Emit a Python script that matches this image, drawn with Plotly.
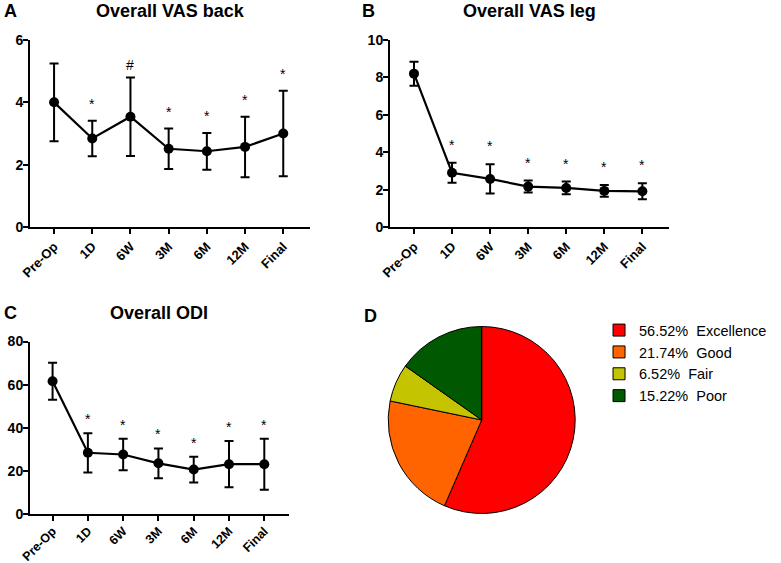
import plotly.graph_objects as go

# time points
cats = ["Pre-Op", "1D", "6W", "3M", "6M", "12M", "Final"]

# A - overall VAS back (mean, sd)
vas_back = [4.0, 2.84, 3.54, 2.51, 2.43, 2.57, 3.0]
vas_back_sd = [1.25, 0.57, 1.26, 0.65, 0.59, 0.97, 1.37]
vas_back_sig = ["", "*", "#", "*", "*", "*", "*"]

# B - overall VAS leg
vas_leg = [8.2, 2.9, 2.57, 2.16, 2.09, 1.93, 1.91]
vas_leg_sd = [0.64, 0.54, 0.78, 0.32, 0.34, 0.31, 0.43]
vas_leg_sig = ["", "*", "*", "*", "*", "*", "*"]

# C - overall ODI
odi = [61.6, 28.4, 27.6, 23.5, 20.6, 23.1, 23.1]
odi_sd = [8.6, 9.1, 7.3, 6.9, 6.0, 10.7, 11.8]
odi_sig = ["", "*", "*", "*", "*", "*", "*"]

# D - outcome
outcome = ["Excellence", "Good", "Fair", "Poor"]
outcome_pct = [56.52, 21.74, 6.52, 15.22]
outcome_colors = ["#FF0000", "#FF6400", "#C4C400", "#005800"]

FONT = "Liberation Sans"
W, H = 781, 563


def px(x):
    return x / W


def py(y):
    return 1 - y / H


fig = go.Figure()


def add_panel(n, vals, sd, sig, star_shift):
    xa = "x" if n == 1 else f"x{n}"
    ya = "y" if n == 1 else f"y{n}"
    fig.add_trace(go.Scatter(
        x=cats, y=vals,
        mode="lines+markers",
        line=dict(color="black", width=2.2),
        marker=dict(color="black", size=10),
        error_y=dict(type="data", array=sd, color="black", thickness=2, width=4.5),
        xaxis=xa, yaxis=ya, showlegend=False,
    ))
    for c, v, s, m in zip(cats, vals, sd, sig):
        if not m:
            continue
        fig.add_annotation(
            x=c, y=v + s, xref=xa, yref=ya,
            text=m, showarrow=False, yanchor="bottom",
            yshift=star_shift - (5 if m == "#" else 0),
            font=dict(family=FONT, size=14, color="black"),
        )


add_panel(1, vas_back, vas_back_sd, vas_back_sig, 7)
add_panel(2, vas_leg, vas_leg_sd, vas_leg_sig, 8)
add_panel(3, odi, odi_sd, odi_sig, 4)

fig.add_trace(go.Pie(
    labels=[f"{p:.2f}%\u00a0 {o}" for p, o in zip(outcome_pct, outcome)],
    values=outcome_pct,
    sort=False,
    direction="clockwise",
    rotation=0,
    textinfo="none",
    hoverinfo="label",
    marker=dict(colors=outcome_colors, line=dict(color="black", width=1)),
    domain=dict(x=[px(388.2), px(575.2)], y=[py(513.5), py(326.5)]),
))

xcommon = dict(
    type="category", categoryorder="array", categoryarray=cats,
    showline=True, linecolor="black", linewidth=2,
    ticks="outside", ticklen=5, tickwidth=2, tickcolor="black",
    tickangle=-45, showgrid=False, zeroline=False, automargin=False,
    tickfont=dict(family=FONT, size=13, color="black", weight="bold"),
)
ycommon = dict(
    showline=True, linecolor="black", linewidth=2,
    ticks="outside", ticklen=5, tickwidth=2, tickcolor="black",
    showgrid=False, zeroline=False, automargin=False, ticklabelstandoff=-3,
    tickfont=dict(family=FONT, size=14, color="black", weight="bold"),
)

fig.update_layout(
    width=W, height=H,
    margin=dict(l=0, r=0, t=0, b=0, autoexpand=False),
    paper_bgcolor="white", plot_bgcolor="white",
    xaxis=dict(xcommon, domain=[px(30), px(310)], range=[-0.63, 6.7], anchor="y"),
    yaxis=dict(ycommon, domain=[py(227), py(40)], range=[0, 6], tickvals=[0, 2, 4, 6], anchor="x"),
    xaxis2=dict(xcommon, domain=[px(390), px(669)], range=[-0.63, 6.7], anchor="y2"),
    yaxis2=dict(ycommon, domain=[py(227), py(40)], range=[0, 10], tickvals=[0, 2, 4, 6, 8, 10], anchor="x2"),
    xaxis3=dict(xcommon, domain=[px(30), px(289)], range=[-0.64, 6.7], anchor="y3",
                ticklabelstandoff=-2,
                tickfont=dict(family=FONT, size=12.5, color="black", weight="bold")),
    yaxis3=dict(ycommon, domain=[py(514), py(341.5)], range=[0, 80], tickvals=[0, 20, 40, 60, 80], anchor="x3"),
    legend=dict(
        x=0.767, y=0.442, xanchor="left", yanchor="top",
        font=dict(family=FONT, size=14.5, color="black"),
        itemclick=False, tracegroupgap=0,
    ),
)

# panel letters and titles
labels = [("A", 2, 11), ("B", 360, 11), ("C", 2, 313), ("D", 362, 316)]
for t, x, y in labels:
    fig.add_annotation(x=px(x), y=py(y), xref="paper", yref="paper", text=t, showarrow=False,
                       xanchor="left", yanchor="middle",
                       font=dict(family=FONT, size=18, color="black", weight="bold"))

titles = [
    ("Overall VAS back", 170, 11),
    ("Overall VAS leg", 529, 11),
    ("Overall ODI", 159, 313),
]
for t, x, y in titles:
    fig.add_annotation(x=px(x), y=py(y), xref="paper", yref="paper", text=t, showarrow=False,
                       xanchor="center", yanchor="middle",
                       font=dict(family=FONT, size=18, color="black", weight="bold"))

# drop the default page margin so the figure sits at the window's corner
fig.write_html("out.html", config={"displayModeBar": False},
               post_script="document.body.style.margin='0';")
